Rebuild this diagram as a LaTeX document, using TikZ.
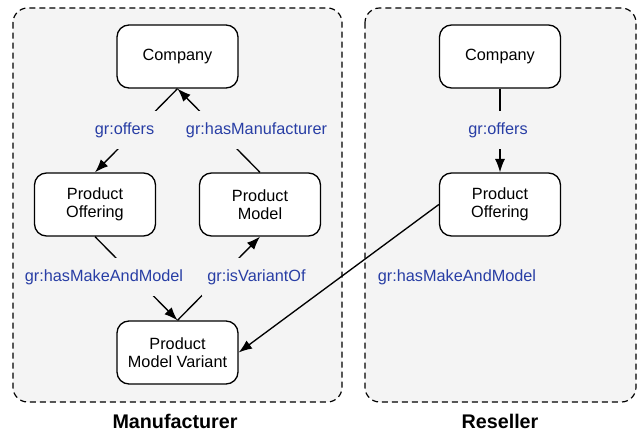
\documentclass[tikz,border=0pt]{standalone}
\usepackage{fontspec}
\setmainfont{Liberation Sans}
\usetikzlibrary{arrows.meta}
\definecolor{bgc}{HTML}{F4F4F4}
\definecolor{lblue}{RGB}{40,62,165}
\begin{document}
\begin{tikzpicture}[x=0.75pt,y=-0.75pt,
  container/.style={draw=black,line width=0.9pt,dash pattern=on 4.5pt off 3pt,fill=bgc,rounded corners=11pt},
  entity/.style={draw=black,line width=1pt,fill=white,rounded corners=9pt,minimum width=90.75pt,minimum height=47.25pt,align=center,font=\fontsize{12.2}{13.5}\selectfont,inner sep=0pt},
  rel/.style={line width=1pt,-{Latex[length=10pt,width=7.5pt]}},
  elabel/.style={fill=bgc,text=lblue,font=\fontsize{12.2}{14}\selectfont,inner xsep=4pt,inner ysep=0pt,minimum height=28pt},
  grouptitle/.style={font=\fontsize{14.8}{16}\selectfont\bfseries}]
\useasboundingbox (0,0) rectangle (644,435);
% containers
\path[container] (13,8) rectangle (342,402);
\path[container] (365,8) rectangle (636,402);
\node[grouptitle] (tman) at (175,421) {Manufacturer};
\node[grouptitle] (tres) at (500,421) {Reseller};
% manufacturer nodes
\node[entity] (comp) at (177.5,56.5) {Company};
\node[entity] (po) at (95,204.5) {Product\\Offering};
\node[entity] (pm) at (260,204.5) {Product\\Model};
\node[entity] (pmv) at (177.5,352.5) {Product\\Model Variant};
% reseller nodes
\node[entity] (rcomp) at (500,56.5) {Company};
\node[entity] (rpo) at (500,204.5) {Product\\Offering};
% edges
\draw[rel] (comp.south) -- (po.north);
\draw[rel] (pm.north) -- (comp.south);
\draw[rel] (po.south) -- (pmv.north);
\draw[rel] (pmv.north) -- (pm.south);
\draw[rel] (rcomp.south) -- (rpo.north);
\draw[rel] (rpo.west) -- (pmv.east);
% edge labels
\node[elabel] (l1) at (124.5,130) {gr:offers};
\node[elabel] (l2) at (256.5,130) {gr:hasManufacturer};
\node[elabel] (l3) at (104,277) {gr:hasMakeAndModel};
\node[elabel] (l4) at (256.5,277) {gr:isVariantOf};
\node[elabel] (l5) at (498,130) {gr:offers};
\node[elabel] (l6) at (457,277) {gr:hasMakeAndModel};
\end{tikzpicture}
\end{document}
